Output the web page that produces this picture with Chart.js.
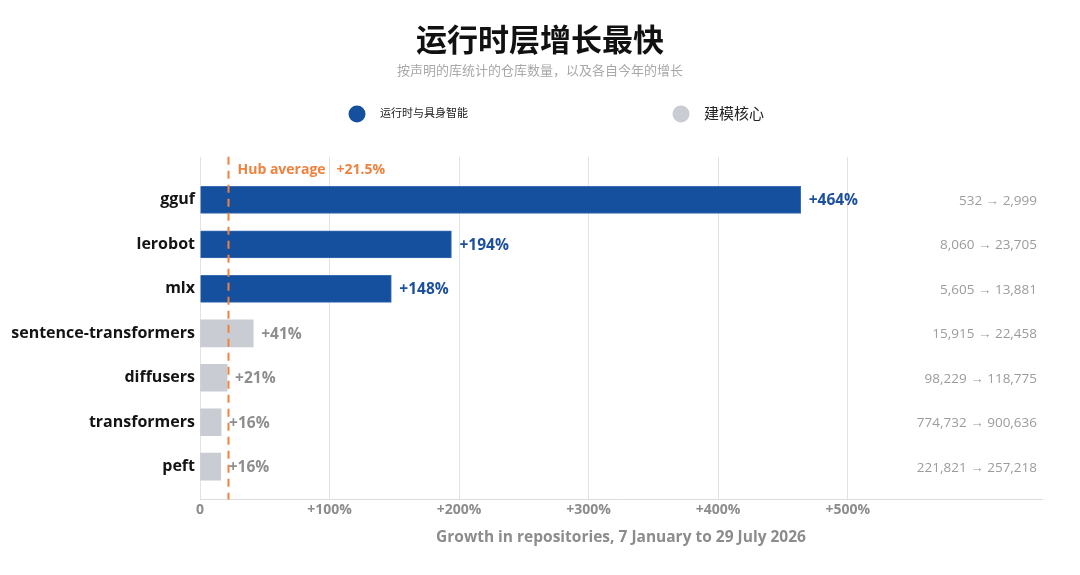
<!DOCTYPE html>
<html>
<head>
<meta charset="utf-8">
<script src="https://cdn.jsdelivr.net/npm/chart.js@4.4.1/dist/chart.umd.min.js"></script>
<style>
  html, body { margin: 0; padding: 0; background: #fff; }
  #wrap { width: 1080px; height: 575px; }
</style>
</head>
<body>
<div id="wrap"><canvas id="canvas"></canvas></div>
<script>
var libraries = ['gguf', 'lerobot', 'mlx', 'sentence-transformers', 'diffusers', 'transformers', 'peft'];
var runtimeGrowth = [463.7, 194.1, 147.7, null, null, null, null];
var modelingGrowth = [null, null, null, 41.1, 20.9, 16.3, 16.0];
var reposJanuary = [532, 8060, 5605, 15915, 98229, 774732, 221821];
var reposJuly = [2999, 23705, 13881, 22458, 118775, 900636, 257218];
var hubAverage = 21.5;
var xTicks = [0, 100, 200, 300, 400, 500];
var seriesNames = ['运行时与具身智能', '建模核心'];

var BLUE = '#15509f';
var GREY = '#c9ccd3';
var ORANGE = '#f0823f';
var LATIN = '"Open Sans", "Noto Sans", sans-serif';
var CJK = '"Noto Sans CJK SC", sans-serif';

function toPoints(values) {
    return values.map(function (v, i) { return { x: v, y: i }; });
}

// hub average line, value labels, counts at the right, legend
var extras = {
    id: 'extras',
    afterDatasetsDraw: function (chart) {
        var ctx = chart.ctx;
        var xs = chart.scales.x, ys = chart.scales.y, area = chart.chartArea;

        // dashed hub average
        var hx = Math.round(xs.getPixelForValue(hubAverage)) + 0.5;
        ctx.save();
        ctx.strokeStyle = ORANGE;
        ctx.lineWidth = 2;
        ctx.setLineDash([8, 6]);
        ctx.beginPath();
        ctx.moveTo(hx, area.top);
        ctx.lineTo(hx, area.bottom);
        ctx.stroke();
        ctx.setLineDash([]);
        ctx.fillStyle = ORANGE;
        ctx.font = 'bold 14px ' + LATIN;
        ctx.textBaseline = 'middle';
        ctx.textAlign = 'left';
        ctx.fillText('Hub average   +' + hubAverage + '%', hx + 9, area.top + 13);

        // value labels
        chart.data.datasets.forEach(function (ds, di) {
            var meta = chart.getDatasetMeta(di);
            meta.data.forEach(function (bar, i) {
                var v = ds.data[i].x;
                if (v === null) return;
                ctx.fillStyle = di === 0 ? '#1c4f9c' : '#8e8e8e';
                ctx.font = 'bold 15.5px ' + LATIN;
                ctx.fillText('+' + Math.round(v) + '%', bar.x + 8, bar.y + 1);
            });
        });

        // repository counts
        ctx.textAlign = 'right';
        ctx.fillStyle = '#9c9c9c';
        ctx.font = '13.5px ' + LATIN;
        libraries.forEach(function (name, i) {
            var txt = reposJanuary[i].toLocaleString('en-US') + ' \u2192 ' + reposJuly[i].toLocaleString('en-US');
            ctx.fillText(txt, area.right - 5, ys.getPixelForValue(i) + 1);
        });

        // legend
        var items = [
            { x: 357, color: BLUE, size: 11 },
            { x: 681, color: GREY, size: 15 }
        ];
        items.forEach(function (it, k) {
            ctx.fillStyle = it.color;
            ctx.beginPath();
            ctx.arc(it.x, 114, 8.5, 0, Math.PI * 2);
            ctx.fill();
            ctx.fillStyle = '#222';
            ctx.textAlign = 'left';
            ctx.font = it.size + 'px ' + CJK;
            ctx.fillText(seriesNames[k], it.x + 23, 113);
        });
        ctx.restore();
    }
};

window.onload = function () {
    var ctx = document.getElementById('canvas').getContext('2d');
    window.myBar = new Chart(ctx, {
        type: 'bar',
        data: {
            datasets: [{
                label: seriesNames[0],
                data: toPoints(runtimeGrowth),
                backgroundColor: BLUE,
                borderColor: '#3a6cb3',
                borderWidth: 1
            }, {
                label: seriesNames[1],
                data: toPoints(modelingGrowth),
                backgroundColor: GREY,
                borderWidth: 0
            }]
        },
        options: {
            indexAxis: 'y',
            responsive: true,
            maintainAspectRatio: false,
            animation: false,
            grouped: false,
            barThickness: 27,
            layout: { padding: { left: 0, right: 0, top: 0, bottom: 28 } },
            plugins: {
                legend: { display: false },
                tooltip: { enabled: false },
                title: {
                    display: true,
                    text: '运行时层增长最快',
                    color: '#111',
                    font: { family: CJK, size: 31, weight: 'bold' },
                    padding: { top: 21, bottom: 4 }
                },
                subtitle: {
                    display: true,
                    text: '按声明的库统计的仓库数量，以及各自今年的增长',
                    color: '#a8a8a8',
                    font: { family: CJK, size: 13 },
                    padding: { top: 0, bottom: 79 }
                }
            },
            scales: {
                x: {
                    type: 'linear',
                    min: 0,
                    max: 650,
                    afterBuildTicks: function (scale) {
                        scale.ticks = xTicks.map(function (v) { return { value: v }; });
                    },
                    grid: { color: '#e3e3e3', drawTicks: false },
                    border: { color: '#dcdcdc' },
                    ticks: {
                        padding: 2,
                        color: '#8c8c8c',
                        font: { family: LATIN, size: 14, weight: 'bold' },
                        callback: function (v) { return v === 0 ? '0' : '+' + v + '%'; }
                    },
                    title: {
                        display: true,
                        text: 'Growth in repositories, 7 January to 29 July 2026',
                        color: '#8c8c8c',
                        font: { family: LATIN, size: 15.5, weight: 'bold' },
                        padding: { top: 8, bottom: 0 }
                    }
                },
                y: {
                    type: 'linear',
                    reverse: true,
                    offset: false,
                    min: -0.97,
                    max: 6.74,
                    afterBuildTicks: function (scale) {
                        scale.ticks = libraries.map(function (n, i) { return { value: i }; });
                    },
                    afterFit: function (scale) { scale.width = 200; },
                    grid: { display: false, drawTicks: false },
                    border: { display: false },
                    ticks: {
                        padding: 5,
                        color: '#141414',
                        font: { family: LATIN, size: 16, weight: 'bold' },
                        callback: function (v) { return libraries[v]; }
                    }
                },
                // empty strip on the right so the title stays centred on the page
                yRight: {
                    type: 'linear',
                    position: 'right',
                    afterFit: function (scale) { scale.width = 38; },
                    grid: { display: false, drawTicks: false },
                    border: { display: false },
                    ticks: { display: false }
                }
            }
        },
        plugins: [extras]
    });
};
</script>
</body>
</html>
